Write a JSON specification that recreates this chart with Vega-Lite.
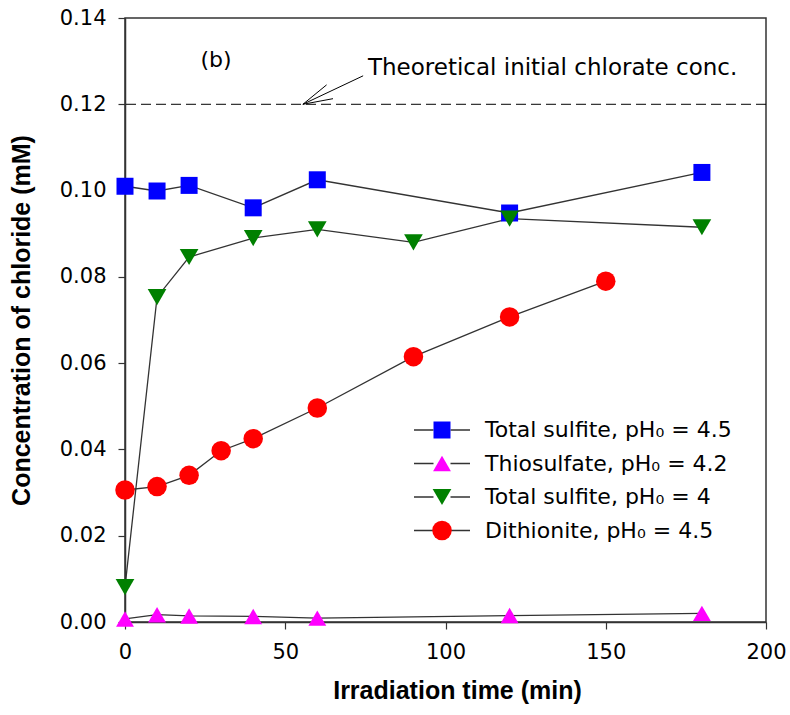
{
  "$schema": "https://vega.github.io/schema/vega-lite/v6.json",
  "width": 641,
  "height": 604,
  "autosize": {"type": "none"},
  "padding": {"left": 125, "top": 18, "right": 24, "bottom": 93},
  "background": "white",
  "config": {
    "view": {"stroke": "#333333", "strokeWidth": 1.5},
    "font": "DejaVu Sans",
    "axis": {
      "grid": false,
      "domainColor": "#333333",
      "domainWidth": 1.5,
      "tickColor": "#333333",
      "tickWidth": 1.2,
      "tickSize": 7,
      "labelColor": "black",
      "labelFont": "DejaVu Sans",
      "labelFontSize": 21,
      "labelFlush": false,
      "labelOverlap": false,
      "titleColor": "black",
      "titleFont": "Liberation Sans",
      "titleFontSize": 25,
      "titleFontWeight": "bold"
    }
  },
  "datasets": {
    "measurements": [
      {"series": "Total sulfite, pH₀ = 4.5", "time": 0, "chloride": 0.1010},
      {"series": "Total sulfite, pH₀ = 4.5", "time": 10, "chloride": 0.0999},
      {"series": "Total sulfite, pH₀ = 4.5", "time": 20, "chloride": 0.1012},
      {"series": "Total sulfite, pH₀ = 4.5", "time": 40, "chloride": 0.0960},
      {"series": "Total sulfite, pH₀ = 4.5", "time": 60, "chloride": 0.1025},
      {"series": "Total sulfite, pH₀ = 4.5", "time": 120, "chloride": 0.0948},
      {"series": "Total sulfite, pH₀ = 4.5", "time": 180, "chloride": 0.1042},
      {"series": "Thiosulfate, pH₀ = 4.2", "time": 0, "chloride": 0.0007},
      {"series": "Thiosulfate, pH₀ = 4.2", "time": 10, "chloride": 0.0017},
      {"series": "Thiosulfate, pH₀ = 4.2", "time": 20, "chloride": 0.0014},
      {"series": "Thiosulfate, pH₀ = 4.2", "time": 40, "chloride": 0.0013},
      {"series": "Thiosulfate, pH₀ = 4.2", "time": 60, "chloride": 0.0009},
      {"series": "Thiosulfate, pH₀ = 4.2", "time": 120, "chloride": 0.0015},
      {"series": "Thiosulfate, pH₀ = 4.2", "time": 180, "chloride": 0.0020},
      {"series": "Total sulfite, pH₀ = 4", "time": 0, "chloride": 0.0081},
      {"series": "Total sulfite, pH₀ = 4", "time": 10, "chloride": 0.0753},
      {"series": "Total sulfite, pH₀ = 4", "time": 20, "chloride": 0.0846},
      {"series": "Total sulfite, pH₀ = 4", "time": 40, "chloride": 0.0890},
      {"series": "Total sulfite, pH₀ = 4", "time": 60, "chloride": 0.0910},
      {"series": "Total sulfite, pH₀ = 4", "time": 90, "chloride": 0.0880},
      {"series": "Total sulfite, pH₀ = 4", "time": 120, "chloride": 0.0935},
      {"series": "Total sulfite, pH₀ = 4", "time": 180, "chloride": 0.0915},
      {"series": "Dithionite, pH₀ = 4.5", "time": 0, "chloride": 0.0306},
      {"series": "Dithionite, pH₀ = 4.5", "time": 10, "chloride": 0.0314},
      {"series": "Dithionite, pH₀ = 4.5", "time": 20, "chloride": 0.0340},
      {"series": "Dithionite, pH₀ = 4.5", "time": 30, "chloride": 0.0397},
      {"series": "Dithionite, pH₀ = 4.5", "time": 40, "chloride": 0.0425},
      {"series": "Dithionite, pH₀ = 4.5", "time": 60, "chloride": 0.0496},
      {"series": "Dithionite, pH₀ = 4.5", "time": 90, "chloride": 0.0615},
      {"series": "Dithionite, pH₀ = 4.5", "time": 120, "chloride": 0.0707},
      {"series": "Dithionite, pH₀ = 4.5", "time": 150, "chloride": 0.0790}
    ],
    "theoretical": [
      {"chloride": 0.12}
    ],
    "notes": [
      {"time": 28.4, "chloride": 0.1303, "text": "(b)", "align": "center"},
      {"time": 75.8, "chloride": 0.1284, "text": "Theoretical initial chlorate conc.", "align": "left"}
    ],
    "pointer": [
      {"time": 74.3, "chloride": 0.1266, "time2": 55.5, "chloride2": 0.12},
      {"time": 62.9, "chloride": 0.1245, "time2": 55.5, "chloride2": 0.12},
      {"time": 64.9, "chloride": 0.1213, "time2": 55.5, "chloride2": 0.12}
    ]
  },
  "layer": [
    {
      "data": {"name": "theoretical"},
      "mark": {"type": "rule", "color": "black", "strokeWidth": 1, "strokeDash": [10, 5]},
      "encoding": {"y": {"field": "chloride", "type": "quantitative"}}
    },
    {
      "data": {"name": "pointer"},
      "mark": {"type": "rule", "color": "black", "strokeWidth": 1},
      "encoding": {
        "x": {"field": "time", "type": "quantitative"},
        "y": {"field": "chloride", "type": "quantitative"},
        "x2": {"field": "time2"},
        "y2": {"field": "chloride2"}
      }
    },
    {
      "data": {"name": "notes"},
      "transform": [{"filter": "datum.align == 'center'"}],
      "mark": {"type": "text", "align": "center", "baseline": "middle", "fontSize": 22, "font": "DejaVu Sans", "color": "black"},
      "encoding": {
        "x": {"field": "time", "type": "quantitative"},
        "y": {"field": "chloride", "type": "quantitative"},
        "text": {"field": "text"}
      }
    },
    {
      "data": {"name": "notes"},
      "transform": [{"filter": "datum.align == 'left'"}],
      "mark": {"type": "text", "align": "left", "baseline": "middle", "fontSize": 23, "font": "DejaVu Sans", "color": "black"},
      "encoding": {
        "x": {"field": "time", "type": "quantitative"},
        "y": {"field": "chloride", "type": "quantitative"},
        "text": {"field": "text"}
      }
    },
    {
      "data": {"name": "measurements"},
      "mark": {"type": "line", "strokeWidth": 1.3},
      "encoding": {
        "x": {
          "field": "time",
          "type": "quantitative",
          "scale": {"domain": [0, 200], "nice": false},
          "title": "Irradiation time (min)",
          "axis": {"values": [0, 50, 100, 150, 200], "labelPadding": 12, "titlePadding": 16, "titleX": 332}
        },
        "y": {
          "field": "chloride",
          "type": "quantitative",
          "scale": {"domain": [0, 0.14], "nice": false},
          "title": "Concentration of chloride (mM)",
          "axis": {"values": [0, 0.02, 0.04, 0.06, 0.08, 0.1, 0.12, 0.14], "format": ".2f", "labelPadding": 12, "titlePadding": 25}
        },
        "stroke": {
          "field": "series",
          "type": "nominal",
          "scale": {"range": ["#333333", "#333333", "#333333", "#333333"]},
          "legend": {
            "orient": "none",
            "legendX": 306,
            "legendY": 401,
            "title": null,
            "padding": 0,
            "symbolType": "M-5.6,0H-1.7M1.7,0H5.6",
            "symbolSize": 100,
            "symbolStrokeWidth": 1.3,
            "labelExpr": "''",
            "labelFont": "DejaVu Sans",
            "labelFontSize": 22,
            "rowPadding": 11.5
          }
        }
      }
    },
    {
      "data": {"name": "measurements"},
      "mark": {"type": "point", "filled": true, "opacity": 1, "strokeWidth": 0},
      "encoding": {
        "x": {"field": "time", "type": "quantitative"},
        "y": {"field": "chloride", "type": "quantitative"},
        "color": {
          "field": "series",
          "type": "nominal",
          "scale": {
            "domain": ["Total sulfite, pH₀ = 4.5", "Thiosulfate, pH₀ = 4.2", "Total sulfite, pH₀ = 4", "Dithionite, pH₀ = 4.5"],
            "range": ["#0000ff", "#ff00ff", "#008000", "#ff0000"]
          },
          "legend": {
            "orient": "none",
            "legendX": 306,
            "legendY": 401,
            "title": null,
            "padding": 0,
            "symbolOpacity": 1,
            "symbolStrokeWidth": 0,
            "symbolStrokeColor": "transparent",
            "labelFont": "DejaVu Sans",
            "labelFontSize": 22,
            "labelColor": "black",
            "labelOffset": 32,
            "labelLimit": 400,
            "rowPadding": 11.5
          }
        },
        "shape": {
          "field": "series",
          "type": "nominal",
          "scale": {
            "domain": ["Total sulfite, pH₀ = 4.5", "Thiosulfate, pH₀ = 4.2", "Total sulfite, pH₀ = 4", "Dithionite, pH₀ = 4.5"],
            "range": ["square", "triangle-up", "triangle-down", "circle"]
          },
          "legend": {
            "orient": "none",
            "legendX": 306,
            "legendY": 401,
            "title": null,
            "padding": 0,
            "symbolOpacity": 1,
            "symbolStrokeWidth": 0,
            "symbolStrokeColor": "transparent",
            "labelFont": "DejaVu Sans",
            "labelFontSize": 22,
            "labelColor": "black",
            "labelOffset": 32,
            "labelLimit": 400,
            "rowPadding": 11.5
          }
        },
        "size": {
          "field": "series",
          "type": "nominal",
          "scale": {
            "domain": ["Total sulfite, pH₀ = 4.5", "Thiosulfate, pH₀ = 4.2", "Total sulfite, pH₀ = 4", "Dithionite, pH₀ = 4.5"],
            "range": [289, 380, 380, 300]
          },
          "legend": {
            "orient": "none",
            "legendX": 306,
            "legendY": 401,
            "title": null,
            "padding": 0,
            "symbolOpacity": 1,
            "symbolStrokeWidth": 0,
            "symbolStrokeColor": "transparent",
            "labelFont": "DejaVu Sans",
            "labelFontSize": 22,
            "labelColor": "black",
            "labelOffset": 32,
            "labelLimit": 400,
            "rowPadding": 11.5
          }
        }
      }
    }
  ]
}
